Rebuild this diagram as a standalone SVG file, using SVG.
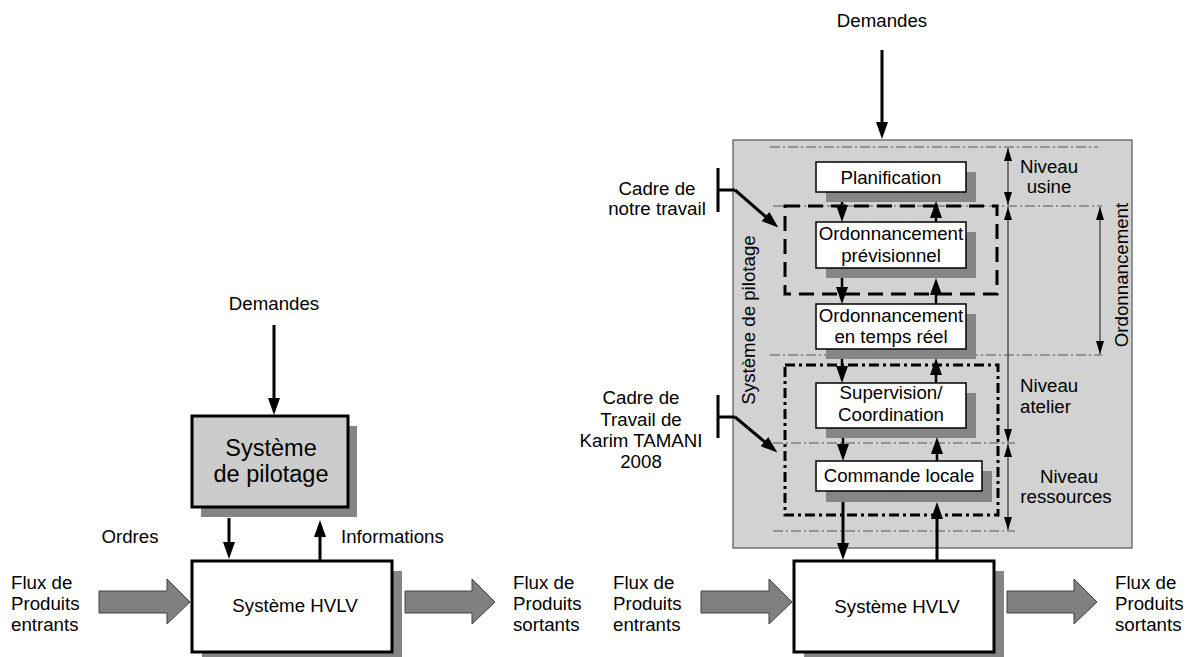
<svg xmlns="http://www.w3.org/2000/svg" width="1187" height="657" viewBox="0 0 1187 657">
<style>
text{font-family:"Liberation Sans",Arial,sans-serif;font-size:18.7px;fill:#000}
.c{text-anchor:middle}
.big{font-size:23.5px}
.shadow{fill:#858585}
.box{fill:#fff;stroke:#000;stroke-width:1.5}
.bigbox{stroke:#000;stroke-width:3}
.lvl{stroke:#555;stroke-width:1;fill:none;stroke-dasharray:10,3,2,3}
.conn{stroke:#000;stroke-width:2.5;fill:none}
.main{stroke:#000;stroke-width:3;fill:none}
.thin{stroke:#333;stroke-width:1.2;fill:none}
.fat{fill:#808080;stroke:#404040;stroke-width:1}
</style>
<defs>
<marker id="ah" viewBox="0 0 17 12" markerWidth="17" markerHeight="12" refX="10" refY="6" orient="auto" markerUnits="userSpaceOnUse"><path d="M0,0 L17,6 L0,12 z" fill="#000"/></marker>
<marker id="sa" viewBox="0 0 13 8" markerWidth="13" markerHeight="8" refX="13" refY="4" orient="auto-start-reverse" markerUnits="userSpaceOnUse"><path d="M0,0 L13,4 L0,8 z" fill="#000"/></marker>
</defs>

<!-- LEFT PANEL -->
<g id="left-demandes"><text class="c" x="274" y="310">Demandes</text></g>
<g id="left-pilotage">
<rect class="shadow" x="201" y="426" width="156" height="91"/>
<rect class="bigbox" x="192" y="416" width="156" height="91" fill="#cccccc"/>
<text class="c big" x="271" y="456">Système</text>
<text class="c big" x="271" y="482">de pilotage</text>
</g>
<g id="left-hvlv">
<rect class="shadow" x="202" y="571" width="200" height="91"/>
<rect class="bigbox" x="192" y="561" width="200" height="91" fill="#fff"/>
<text class="c" x="295" y="612">Système HVLV</text>
</g>
<g id="left-labels">
<text class="c" x="130" y="543">Ordres</text>
<text x="341" y="543">Informations</text>
<text x="11" y="589">Flux de</text><text x="11" y="610">Produits</text><text x="11" y="631">entrants</text>
<text x="513" y="589">Flux de</text><text x="513" y="610">Produits</text><text x="513" y="631">sortants</text>
</g>
<g id="left-flows">
<polygon class="fat" points="99,591 167,591 167,579 190,602 167,624 167,613 99,613"/>
<polygon class="fat" points="405,591 472,591 472,579 495,602 472,624 472,613 405,613"/>
</g>

<!-- RIGHT PANEL -->
<g id="right-frame">
<rect x="733" y="140" width="399" height="408" fill="#d2d2d2" stroke="#555" stroke-width="1.2"/>
<text transform="translate(755,320) rotate(-90)" class="c">Système de pilotage</text>
</g>
<g id="levels">
<line class="lvl" x1="770" y1="147" x2="1098" y2="147"/>
<line class="lvl" x1="773" y1="206" x2="1102" y2="206"/>
<line class="lvl" x1="770" y1="355" x2="1102" y2="355"/>
<line class="lvl" x1="773" y1="443" x2="1015" y2="443"/>
<line class="lvl" x1="773" y1="531" x2="1015" y2="531"/>
<line class="thin" x1="1008" y1="148" x2="1008" y2="205" marker-start="url(#sa)" marker-end="url(#sa)"/>
<line class="thin" x1="1008" y1="207" x2="1008" y2="442" marker-start="url(#sa)" marker-end="url(#sa)"/>
<line class="thin" x1="1008" y1="444" x2="1008" y2="530" marker-start="url(#sa)" marker-end="url(#sa)"/>
<line class="thin" x1="1100" y1="207" x2="1100" y2="354" marker-start="url(#sa)" marker-end="url(#sa)"/>
<text class="c" x="1049" y="173">Niveau</text><text class="c" x="1049" y="193">usine</text>
<text x="1020" y="392">Niveau</text><text x="1020" y="413">atelier</text>
<text class="c" x="1069" y="483">Niveau</text><text class="c" x="1066" y="503">ressources</text>
<text transform="translate(1128,275) rotate(-90)" class="c">Ordonnancement</text>
</g>
<g id="frame-notre-travail">
<rect x="785" y="206" width="212" height="88" fill="none" stroke="#000" stroke-width="3" stroke-dasharray="15,8"/>
</g>
<g id="frame-tamani">
<rect x="785" y="365" width="213" height="150" fill="none" stroke="#000" stroke-width="3" stroke-dasharray="10,4,3,4"/>
</g>
<g id="n-planification">
<rect class="shadow" x="826" y="172" width="150" height="30"/>
<rect class="box" x="816" y="162" width="150" height="30"/>
<text class="c" x="891" y="184">Planification</text>
</g>
<g id="n-ordo-prev">
<rect class="shadow" x="826" y="232" width="150" height="46"/>
<rect class="box" x="816" y="222" width="150" height="46"/>
<text class="c" x="891" y="240">Ordonnancement</text>
<text class="c" x="891" y="262">prévisionnel</text>
</g>
<g id="n-ordo-tr">
<rect class="shadow" x="826" y="314" width="150" height="45"/>
<rect class="box" x="816" y="304" width="150" height="45"/>
<text class="c" x="891" y="322">Ordonnancement</text>
<text class="c" x="891" y="343">en temps réel</text>
</g>
<g id="n-supervision">
<rect class="shadow" x="826" y="393" width="150" height="45"/>
<rect class="box" x="816" y="383" width="150" height="45"/>
<text class="c" x="891" y="399">Supervision/</text>
<text class="c" x="891" y="421">Coordination</text>
</g>
<g id="n-commande">
<rect class="shadow" x="826" y="471" width="166" height="31"/>
<rect class="box" x="816" y="461" width="166" height="30"/>
<text class="c" x="899" y="482">Commande locale</text>
</g>
<g id="right-hvlv">
<rect class="shadow" x="804" y="571" width="200" height="91"/>
<rect class="bigbox" x="794" y="561" width="200" height="91" fill="#fff"/>
<text class="c" x="897" y="613">Système HVLV</text>
</g>
<g id="right-labels">
<text class="c" x="882" y="27">Demandes</text>
<text class="c" x="657" y="195">Cadre de</text>
<text class="c" x="657" y="215">notre travail</text>
<text class="c" x="641" y="404">Cadre de</text>
<text class="c" x="641" y="426">Travail de</text>
<text class="c" x="641" y="447">Karim TAMANI</text>
<text class="c" x="641" y="468">2008</text>
<text x="613" y="589">Flux de</text><text x="613" y="610">Produits</text><text x="613" y="631">entrants</text>
<text x="1115" y="589">Flux de</text><text x="1115" y="610">Produits</text><text x="1115" y="631">sortants</text>
</g>
<g id="right-flows">
<polygon class="fat" points="701,591 769,591 769,579 792,602 769,624 769,613 701,613"/>
<polygon class="fat" points="1007,591 1074,591 1074,579 1097,602 1074,624 1074,613 1007,613"/>
</g>

<g id="connectors">
<line class="main" x1="274" y1="325" x2="274" y2="408" marker-end="url(#ah)"/>
<line class="main" x1="229" y1="518" x2="229" y2="552" marker-end="url(#ah)"/>
<line class="main" x1="320" y1="560" x2="320" y2="527" marker-end="url(#ah)"/>
<line class="main" x1="882" y1="50" x2="882" y2="132" marker-end="url(#ah)"/>
<line class="conn" x1="842" y1="202" x2="842" y2="215" marker-end="url(#ah)"/>
<line class="conn" x1="842" y1="278" x2="842" y2="297" marker-end="url(#ah)"/>
<line class="conn" x1="842" y1="359" x2="842" y2="376" marker-end="url(#ah)"/>
<line class="conn" x1="843" y1="438" x2="843" y2="454" marker-end="url(#ah)"/>
<line class="main" x1="843" y1="502" x2="843" y2="553" marker-end="url(#ah)"/>
<line class="conn" x1="936" y1="222" x2="936" y2="208" marker-end="url(#ah)"/>
<line class="conn" x1="936" y1="304" x2="936" y2="285" marker-end="url(#ah)"/>
<line class="conn" x1="936" y1="383" x2="936" y2="365" marker-end="url(#ah)"/>
<line class="conn" x1="937" y1="461" x2="937" y2="444" marker-end="url(#ah)"/>
<line class="main" x1="937" y1="561" x2="937" y2="509" marker-end="url(#ah)"/>
<path class="main" d="M718,168 V212 M718,190 H735"/>
<line class="main" x1="735" y1="190" x2="773" y2="223" marker-end="url(#ah)"/>
<path class="main" d="M718,395 V438 M718,417 H735"/>
<line class="main" x1="735" y1="417" x2="772" y2="448" marker-end="url(#ah)"/>
</g>
</svg>
